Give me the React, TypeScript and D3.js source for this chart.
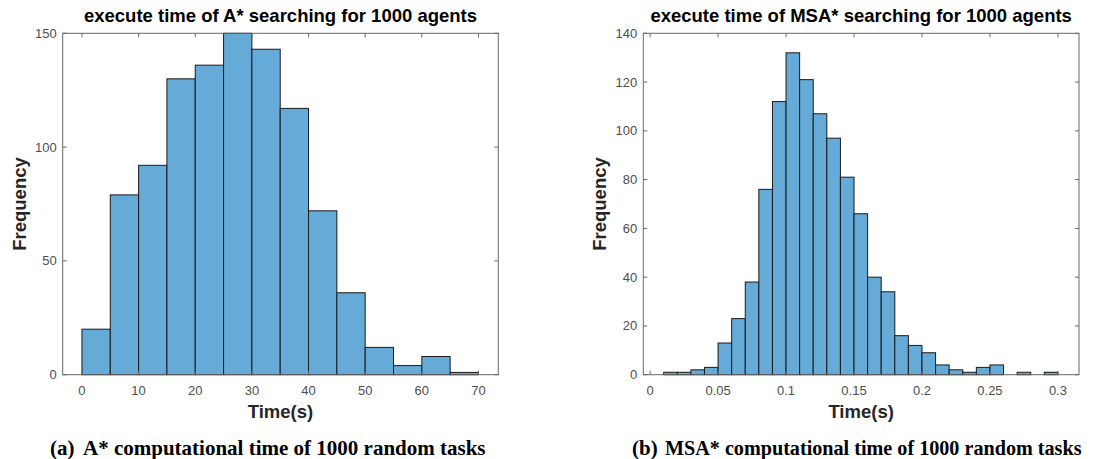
import React, { useEffect, useRef } from 'react';
import * as d3 from 'd3';

// A* histogram (bin width 5 s)
const aStarEdges = [0, 5, 10, 15, 20, 25, 30, 35, 40, 45, 50, 55, 60, 65, 70];
const aStarCounts = [20, 79, 92, 130, 136, 150, 143, 117, 72, 36, 12, 4, 8, 1];
const aStarXTicks = [0, 10, 20, 30, 40, 50, 60, 70];
const aStarYTicks = [0, 50, 100, 150];

// MSA* histogram (bin width 0.01 s)
const msaEdges = [
  0.01, 0.02, 0.03, 0.04, 0.05, 0.06, 0.07, 0.08, 0.09, 0.1, 0.11, 0.12, 0.13, 0.14, 0.15,
  0.16, 0.17, 0.18, 0.19, 0.2, 0.21, 0.22, 0.23, 0.24, 0.25, 0.26, 0.27, 0.28, 0.29, 0.3,
];
const msaCounts = [
  1, 1, 2, 3, 13, 23, 38, 76, 112, 132, 121, 107, 97, 81, 66, 40, 34, 16, 12, 9, 4, 2, 1, 3, 4,
  0, 1, 0, 1,
];
const msaXTicks = [0, 0.05, 0.1, 0.15, 0.2, 0.25, 0.3];
const msaYTicks = [0, 20, 40, 60, 80, 100, 120, 140];

interface PanelSpec {
  title: string;
  edges: number[];
  counts: number[];
  xTicks: number[];
  yTicks: number[];
  xDomain: [number, number];
  yDomain: [number, number];
  left: number;
  right: number;
  caption: string;
  tag: string;
  tagX: number;
  captionX: number;
  squeeze: number;
}

const panels: PanelSpec[] = [
  {
    title: 'execute time of A* searching for 1000 agents',
    edges: aStarEdges,
    counts: aStarCounts,
    xTicks: aStarXTicks,
    yTicks: aStarYTicks,
    xDomain: [-3.4, 73.5],
    yDomain: [0, 150],
    left: 62.7,
    right: 498.3,
    tag: '(a)',
    caption: 'A* computational time of 1000 random tasks',
    tagX: 50,
    captionX: 83,
    squeeze: 1,
  },
  {
    title: 'execute time of MSA* searching for 1000 agents',
    edges: msaEdges,
    counts: msaCounts,
    xTicks: msaXTicks,
    yTicks: msaYTicks,
    xDomain: [-0.005, 0.3155],
    yDomain: [0, 140],
    left: 643.3,
    right: 1079,
    tag: '(b)',
    caption: 'MSA* computational time of 1000 random tasks',
    tagX: 632,
    captionX: 665,
    squeeze: 0.96,
  },
];

const TOP = 33.3;
const BOTTOM = 374.7;
const SANS = '"Liberation Sans", Arial, Helvetica, sans-serif';
const SERIF = '"Liberation Serif", "Times New Roman", serif';

const App: React.FC = () => {
  const svgRef = useRef<SVGSVGElement>(null);

  useEffect(() => {
    if (!svgRef.current) return;
    const svg = d3.select(svgRef.current);
    svg.selectAll('*').remove();

    svg.append('rect').attr('width', 1093).attr('height', 459).attr('fill', '#fff');

    panels.forEach((p) => {
      const x = d3.scaleLinear().domain(p.xDomain).range([p.left, p.right]);
      const y = d3.scaleLinear().domain(p.yDomain).range([BOTTOM, TOP]);
      const g = svg.append('g');

      // bars (empty bins are not drawn)
      p.counts.forEach((c, i) => {
        if (c <= 0) return;
        g.append('rect')
          .attr('x', x(p.edges[i]))
          .attr('y', y(c))
          .attr('width', x(p.edges[i + 1]) - x(p.edges[i]))
          .attr('height', y(0) - y(c))
          .attr('fill', '#66aad7')
          .attr('stroke', '#1a1a1a')
          .attr('stroke-width', 1);
      });

      // box
      g.append('rect')
        .attr('x', p.left)
        .attr('y', TOP)
        .attr('width', p.right - p.left)
        .attr('height', BOTTOM - TOP)
        .attr('fill', 'none')
        .attr('stroke', '#666')
        .attr('stroke-width', 1);

      // x ticks (inside, top and bottom)
      p.xTicks.forEach((t) => {
        const px = x(t);
        g.append('line').attr('x1', px).attr('x2', px).attr('y1', BOTTOM).attr('y2', BOTTOM - 4)
          .attr('stroke', '#666');
        g.append('line').attr('x1', px).attr('x2', px).attr('y1', TOP).attr('y2', TOP + 4)
          .attr('stroke', '#666');
        g.append('text')
          .attr('x', px)
          .attr('y', 395)
          .attr('text-anchor', 'middle')
          .attr('font-family', SANS)
          .attr('font-size', 13)
          .attr('fill', '#4d4d4d')
          .text(String(t));
      });

      // y ticks (inside, left and right)
      p.yTicks.forEach((t) => {
        const py = y(t);
        g.append('line').attr('x1', p.left).attr('x2', p.left + 4).attr('y1', py).attr('y2', py)
          .attr('stroke', '#666');
        g.append('line').attr('x1', p.right).attr('x2', p.right - 4).attr('y1', py).attr('y2', py)
          .attr('stroke', '#666');
        g.append('text')
          .attr('x', p.left - 6)
          .attr('y', py + 4.5)
          .attr('text-anchor', 'end')
          .attr('font-family', SANS)
          .attr('font-size', 13)
          .attr('fill', '#4d4d4d')
          .text(String(t));
      });

      const cx = (p.left + p.right) / 2;

      g.append('text')
        .attr('x', cx)
        .attr('y', 22)
        .attr('text-anchor', 'middle')
        .attr('font-family', SANS)
        .attr('font-weight', 'bold')
        .attr('font-size', 18.5)
        .attr('fill', '#000')
        .text(p.title);

      g.append('text')
        .attr('x', cx)
        .attr('y', 418)
        .attr('text-anchor', 'middle')
        .attr('font-family', SANS)
        .attr('font-weight', 'bold')
        .attr('font-size', 18.5)
        .attr('fill', '#262626')
        .text('Time(s)');

      g.append('text')
        .attr('transform', `translate(${p.left - 37},${(TOP + BOTTOM) / 2}) rotate(-90)`)
        .attr('text-anchor', 'middle')
        .attr('font-family', SANS)
        .attr('font-weight', 'bold')
        .attr('font-size', 18.5)
        .attr('fill', '#262626')
        .text('Frequency');

      // caption under the panel
      g.append('text')
        .attr('x', p.tagX)
        .attr('y', 455)
        .attr('font-family', SERIF)
        .attr('font-weight', 'bold')
        .attr('font-size', 21)
        .attr('fill', '#000')
        .text(p.tag);
      g.append('text')
        .attr('transform', `translate(${p.captionX},455) scale(${p.squeeze},1)`)
        .attr('font-family', SERIF)
        .attr('font-weight', 'bold')
        .attr('font-size', 21)
        .attr('fill', '#000')
        .text(p.caption);
    });
  }, []);

  return (
    <svg
      ref={svgRef}
      width={1093}
      height={459}
      style={{ position: 'absolute', left: 0, top: 0, display: 'block' }}
    />
  );
};

export default App;
